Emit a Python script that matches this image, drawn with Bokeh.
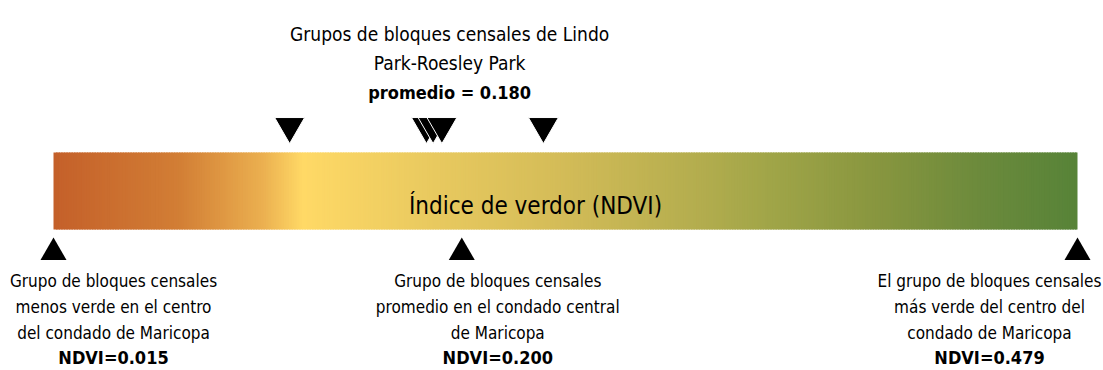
from bokeh.plotting import figure
from bokeh.models import Range1d
from bokeh.embed import file_html
from bokeh.resources import INLINE
from bokeh.core.properties import value
import numpy as np

# ---- data ----
ndvi_min = 0.015
ndvi_avg = 0.200
ndvi_max = 0.479
lindo_groups = [0.122, 0.184, 0.187, 0.191, 0.237]
lindo_mean = 0.180

bar_title = "Índice de verdor (NDVI)"
top_lines = ["Grupos de bloques censales de Lindo", "Park-Roesley Park"]
top_bold = "promedio = 0.180"

ref_values = [ndvi_min, ndvi_avg, ndvi_max]
ref_lines = [
    ["Grupo de bloques censales", "menos verde en el centro", "del condado de Maricopa"],
    ["Grupo de bloques censales", "promedio en el condado central", "de Maricopa"],
    ["El grupo de bloques censales", "más verde del centro del", "condado de Maricopa"],
]
ref_bold = ["NDVI=0.015", "NDVI=0.200", "NDVI=0.479"]

# gradient colour stops (position along the NDVI bar, colour)
grad_pos = [0.015, 0.072, 0.110, 0.128, 0.180, 0.244, 0.308, 0.340, 0.388, 0.436, 0.479]
grad_col = ["#C4602A", "#D27E35", "#EBB050", "#FFD966", "#EBCB60", "#D4BC58",
            "#B3AD4E", "#A0A548", "#88963F", "#6B8A3C", "#578338"]

# ---- layout ----
W, H = 1103, 370
px_per_unit = 1024 / (ndvi_max - ndvi_min)
left_px = 53
x0 = ndvi_min - left_px / px_per_unit
x1 = x0 + W / px_per_unit

p = figure(width=W, height=H, output_backend="svg", toolbar_location=None,
           x_range=Range1d(x0, x1), y_range=Range1d(H, 0),
           min_border=0)
p.axis.visible = False
p.grid.visible = False
p.outline_line_color = None
p.background_fill_color = "white"

FONT = value("DejaVu Sans Condensed")


def hex2rgb(h):
    h = h.lstrip("#")
    return np.array([int(h[i:i + 2], 16) for i in (0, 2, 4)], dtype=float)


stops = np.array([hex2rgb(c) for c in grad_col])
N = 400
edges = np.linspace(ndvi_min, ndvi_max, N + 1)
mids = (edges[:-1] + edges[1:]) / 2
cols = []
for m in mids:
    rgb = [np.interp(m, grad_pos, stops[:, k]) for k in range(3)]
    cols.append("#%02x%02x%02x" % tuple(int(round(v)) for v in rgb))
step = edges[1] - edges[0]
rights = edges[1:] + step * 0.6
rights[-1] = ndvi_max
bar_top, bar_bot = 152, 229
p.quad(left=edges[:-1], right=rights, top=bar_top, bottom=bar_bot,
       fill_color=cols, line_color=None)

# bar title
p.text(x=[(ndvi_min + ndvi_max) / 2], y=[205], text=[bar_title], x_offset=-30,
       text_align="center", text_baseline="alphabetic", text_font=FONT,
       text_font_size="24px", text_color="black")

# Lindo Park triangles (above bar)
p.scatter(x=lindo_groups, y=[125.7] * len(lindo_groups), marker="inverted_triangle",
          size=30, fill_color="black", line_color="white", line_width=1)

# top label
top_base = [33, 62]
for ln, yb in zip(top_lines, top_base):
    p.text(x=[lindo_mean], y=[yb], text=[ln], x_offset=32, text_align="center",
           text_baseline="alphabetic", text_font=FONT, text_font_size="19px",
           text_color="black")
p.text(x=[lindo_mean], y=[92], text=[top_bold], x_offset=32, text_align="center",
       text_baseline="alphabetic", text_font=FONT, text_font_size="18px",
       text_font_style="bold", text_color="black")

# reference triangles (below bar)
p.scatter(x=ref_values, y=[252] * 3, marker="triangle", size=26,
          fill_color="black", line_color=None)

offsets = [60, 36, -88]
base = [280, 306, 332]
for v, lines, bold, off in zip(ref_values, ref_lines, ref_bold, offsets):
    for ln, yb in zip(lines, base):
        p.text(x=[v], y=[yb], text=[ln], x_offset=off, text_align="center",
               text_baseline="alphabetic", text_font=FONT, text_font_size="17px",
               text_color="black")
    p.text(x=[v], y=[357], text=[bold], x_offset=off, text_align="center",
           text_baseline="alphabetic", text_font=FONT, text_font_size="18px",
           text_font_style="bold", text_color="black")

open("out.html", "w").write(file_html(p, INLINE))
